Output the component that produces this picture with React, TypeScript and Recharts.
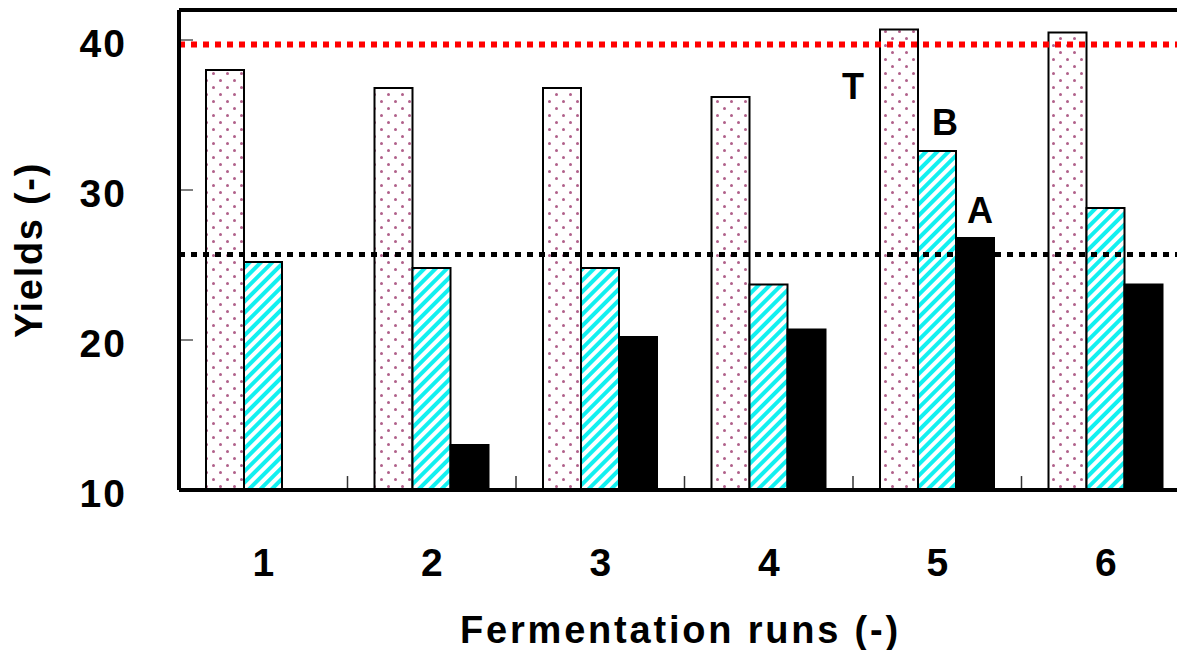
import { BarChart, Bar, XAxis, YAxis, ReferenceLine, LabelList } from "recharts";

const runs = ["1", "2", "3", "4", "5", "6"];
const yieldT = [38.0, 36.8, 36.8, 36.2, 40.7, 40.5];
const yieldB = [25.2, 24.8, 24.8, 23.7, 32.6, 28.8];
const yieldA = [null, 13.0, 20.2, 20.7, 26.8, 23.7];
const yTicks = [10, 20, 30, 40];
const yMax = 42;
const levelTop = 39.7; // red dotted
const levelMid = 25.7; // black dotted
const labelRun = "5"; // series names written next to run 5

const data = runs.map((run, i) => ({
  run,
  T: yieldT[i],
  B: yieldB[i],
  A: yieldA[i],
}));

const FONT = '"Liberation Sans", Arial, Helvetica, sans-serif';

// offsets of the T / B / A tags relative to their bar
const tagOffset: Record<string, { dx: number; dy: number }> = {
  T: { dx: -46, dy: 69 },
  B: { dx: 8, dy: -16 },
  A: { dx: 5, dy: -15 },
};

function seriesTag(name: "T" | "B" | "A") {
  const target = data.find((d) => d.run === labelRun)![name];
  return (p: any) => {
    if (p.value !== target) return null;
    const vb = p.viewBox ?? p;
    const x = (vb.x ?? p.x) + (vb.width ?? p.width) / 2 + tagOffset[name].dx;
    const y = (vb.y ?? p.y) + tagOffset[name].dy;
    return (
      <text
        x={x}
        y={y}
        textAnchor="middle"
        fontSize={36}
        fontWeight="bold"
        fontFamily={FONT}
        fill="#000"
      >
        {name}
      </text>
    );
  };
}

export default function App() {
  return (
    <div
      style={{
        position: "fixed",
        left: 0,
        top: 0,
        width: 1177,
        height: 650,
        overflow: "hidden",
        background: "#fff",
      }}
    >
      <BarChart
        width={1200}
        height={650}
        data={data}
        margin={{ top: 10, right: 10, left: 0, bottom: 0 }}
        barGap={0}
        barSize={38}
        style={{ fontFamily: FONT }}
      >
        <defs>
          <pattern id="dots" width={14} height={14} patternUnits="userSpaceOnUse">
            <rect width={14} height={14} fill="#fff" />
            <circle cx={3.5} cy={3.5} r={1.5} fill="#b0608a" />
            <circle cx={10.5} cy={10.5} r={1.5} fill="#b0608a" />
          </pattern>
          <pattern
            id="hatch"
            width={8}
            height={8}
            patternUnits="userSpaceOnUse"
            patternTransform="rotate(45)"
          >
            <rect width={8} height={8} fill="#fff" />
            <rect width={4} height={8} fill="#12f0f0" />
          </pattern>
        </defs>
        <XAxis
          xAxisId="runs"
          dataKey="run"
          height={160}
          tickLine={false}
          tickMargin={52}
          axisLine={{ stroke: "#000", strokeWidth: 4 }}
          tick={{ fontSize: 39, fontWeight: "bold", fill: "#000" }}
          label={{
            value: "Fermentation runs (-)",
            position: "insideBottom",
            offset: 7,
            dx: -4,
            style: {
              fontSize: 38,
              fontWeight: "bold",
              fill: "#000",
              letterSpacing: 2.8,
            },
          }}
        />
        <YAxis
          yAxisId="yields"
          width={179}
          domain={[10, yMax]}
          ticks={yTicks}
          allowDataOverflow
          tickSize={-14}
          tickMargin={66}
          tickLine={{ stroke: "#000", strokeWidth: 1 }}
          axisLine={{ stroke: "#000", strokeWidth: 4 }}
          tick={{ fontSize: 39, fontWeight: "bold", fill: "#000", dy: 3, letterSpacing: 2 }}
          label={{
            value: "Yields (-)",
            angle: -90,
            position: "insideLeft",
            offset: 29,
            style: {
              textAnchor: "middle",
              fontSize: 38,
              fontWeight: "bold",
              fill: "#000",
              letterSpacing: 1.7,
            },
          }}
        />
        <Bar
          xAxisId="runs"
          yAxisId="yields"
          dataKey="T"
          fill="url(#dots)"
          stroke="#000"
          strokeWidth={2}
          isAnimationActive={false}
        >
          <LabelList dataKey="T" content={seriesTag("T")} />
        </Bar>
        <Bar
          xAxisId="runs"
          yAxisId="yields"
          dataKey="B"
          fill="url(#hatch)"
          stroke="#000"
          strokeWidth={2}
          isAnimationActive={false}
        >
          <LabelList dataKey="B" content={seriesTag("B")} />
        </Bar>
        <Bar
          xAxisId="runs"
          yAxisId="yields"
          dataKey="A"
          fill="#000"
          stroke="#000"
          strokeWidth={2}
          isAnimationActive={false}
        >
          <LabelList dataKey="A" content={seriesTag("A")} />
        </Bar>
        {runs.slice(1).map((run) => (
          <ReferenceLine
            key={run}
            xAxisId="runs"
            yAxisId="yields"
            position="start"
            segment={[
              { x: run, y: 10 },
              { x: run, y: 10.93 },
            ]}
            stroke="#333"
            strokeWidth={1.5}
          />
        ))}
        {/* top of the frame */}
        <ReferenceLine
          xAxisId="runs"
          yAxisId="yields"
          y={yMax}
          stroke="#000"
          strokeWidth={4}
        />
        <ReferenceLine
          xAxisId="runs"
          yAxisId="yields"
          y={levelTop}
          stroke="#ff0000"
          strokeWidth={6}
          strokeDasharray="6 6"
        />
        <ReferenceLine
          xAxisId="runs"
          yAxisId="yields"
          y={levelMid}
          stroke="#000"
          strokeWidth={5}
          strokeDasharray="6 6"
        />
      </BarChart>
    </div>
  );
}
